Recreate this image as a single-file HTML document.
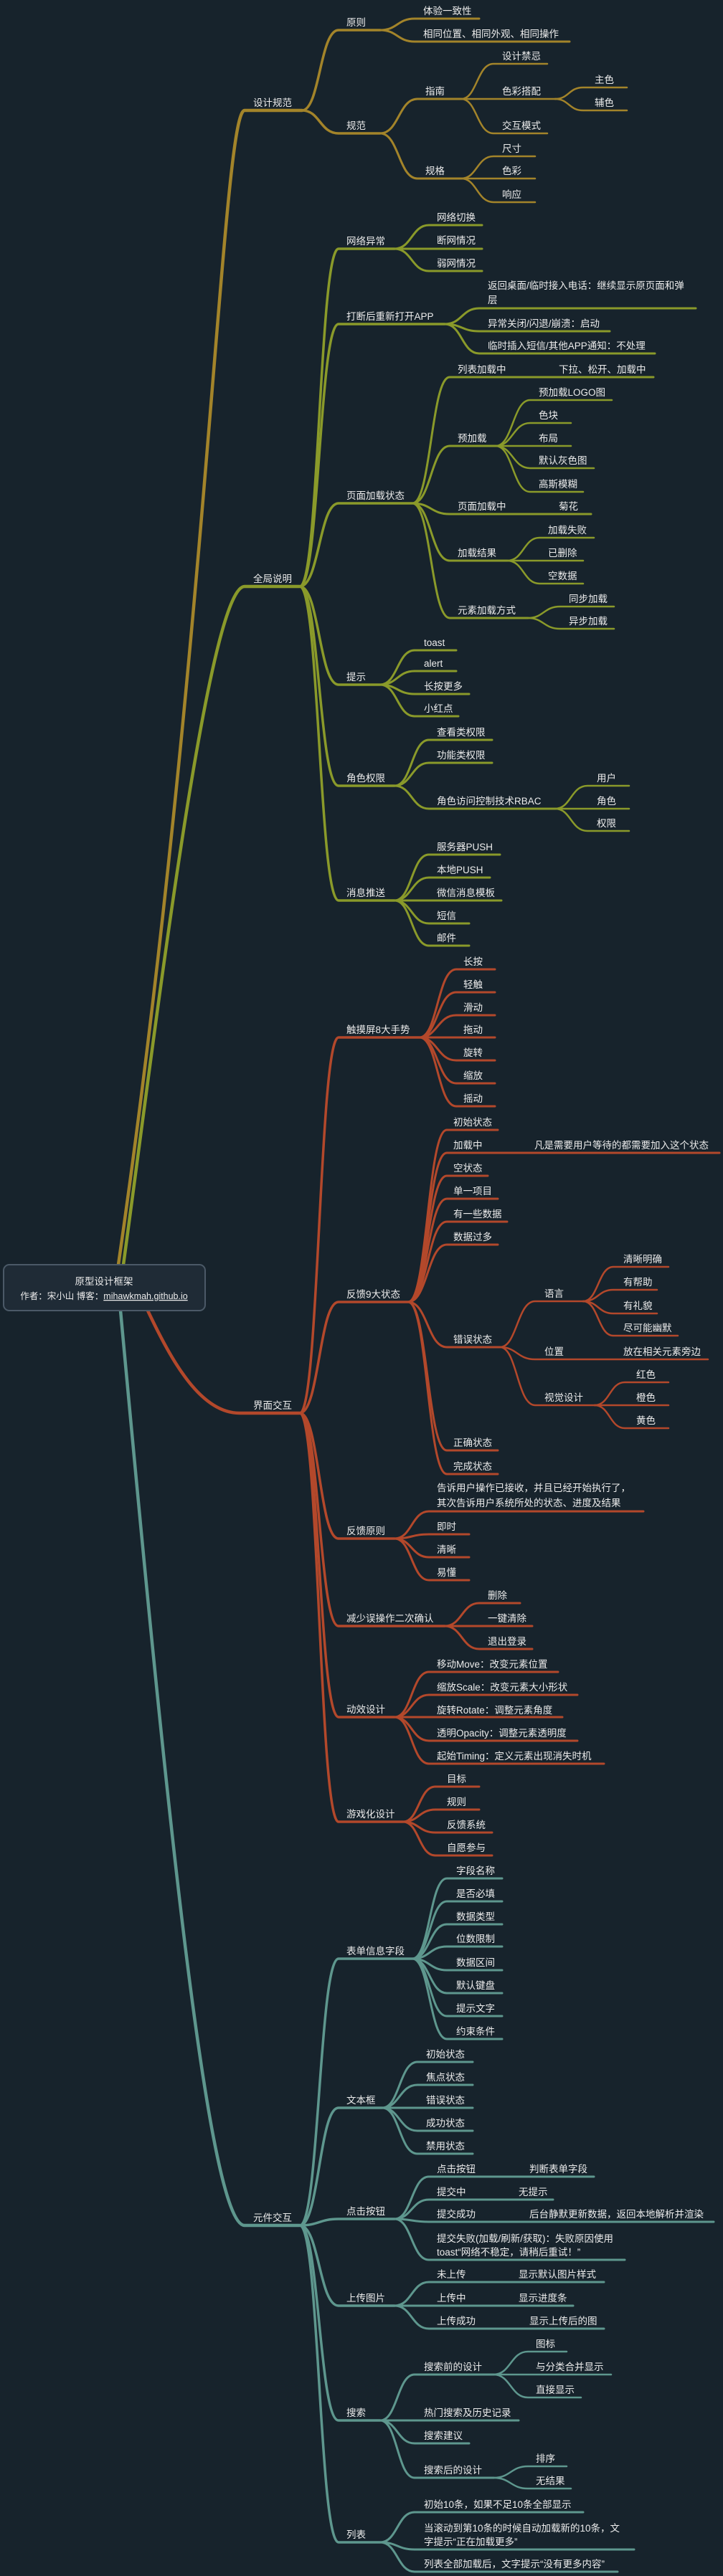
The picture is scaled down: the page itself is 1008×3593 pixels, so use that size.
<!DOCTYPE html>
<html><head><meta charset="utf-8">
<style>
html,body{margin:0;padding:0;background:#17232c;}
svg{display:block}
text{font-family:"Liberation Sans","Noto Sans CJK SC",sans-serif;font-size:13.5px;fill:#ececec;}
.g path{fill:none;stroke-linecap:round}
</style></head><body>
<svg width="1008" height="3593" viewBox="0 0 1008 3593" xmlns="http://www.w3.org/2000/svg">
<rect width="1008" height="3593" fill="#17232c"/>

<!-- GOLD -->
<g class="g" stroke="#a3842a">
<path d="M165,1764 C290,900 310,154 341,154 H421" stroke-width="4.5"/>
<path d="M421,154 C446,154 446,42 472,42 H530" stroke-width="3.5"/>
<path d="M421,154 C446,154 446,186 472,186 H530" stroke-width="3.5"/>
<path d="M530,42 C554,42 554,26 578,26 H668" stroke-width="3"/>
<path d="M530,42 C554,42 554,58 578,58 H794" stroke-width="3"/>
<path d="M530,186 C556,186 556,138 582,138 H643" stroke-width="3"/>
<path d="M530,186 C556,186 556,249 582,249 H643" stroke-width="3"/>
<path d="M643,138 C665,138 665,89 688,89 H763" stroke-width="2.5"/>
<path d="M643,138 H774" stroke-width="2.5"/>
<path d="M643,138 C665,138 665,186 688,186 H763" stroke-width="2.5"/>
<path d="M774,138 C793,138 793,122 813,122 H874" stroke-width="2.5"/>
<path d="M774,138 C793,138 793,154 813,154 H874" stroke-width="2.5"/>
<path d="M643,249 C665,249 665,218 688,218 H746" stroke-width="2.5"/>
<path d="M643,249 H746" stroke-width="2.5"/>
<path d="M643,249 C665,249 665,282 688,282 H746" stroke-width="2.5"/>
</g>
<text x="353" y="148">设计规范</text>
<text x="483" y="36">原则</text>
<text x="483" y="180">规范</text>
<text x="590" y="20">体验一致性</text>
<text x="590" y="52">相同位置、相同外观、相同操作</text>
<text x="593" y="132">指南</text>
<text x="593" y="243">规格</text>
<text x="700" y="83">设计禁忌</text>
<text x="700" y="132">色彩搭配</text>
<text x="700" y="180">交互模式</text>
<text x="829" y="116">主色</text>
<text x="829" y="148">辅色</text>
<text x="700" y="212">尺寸</text>
<text x="700" y="243">色彩</text>
<text x="700" y="276">响应</text>

<!-- GREEN -->
<g class="g" stroke="#8a9a2a">
<path d="M172,1764 C215,1450 290,818 341,818 H418" stroke-width="4.5"/>
<path d="M418,818 C445,818 445,347 472,347 H550" stroke-width="3.5"/>
<path d="M418,818 C445,818 445,452 472,452 H620" stroke-width="3.5"/>
<path d="M418,818 C445,818 445,702 472,702 H575" stroke-width="3.5"/>
<path d="M418,818 C445,818 445,955 472,955 H530" stroke-width="3.5"/>
<path d="M418,818 C445,818 445,1096 472,1096 H550" stroke-width="3.5"/>
<path d="M418,818 C445,818 445,1256 472,1256 H550" stroke-width="3.5"/>
<path d="M550,347 C574,347 574,314 598,314 H672" stroke-width="3"/>
<path d="M550,347 H672" stroke-width="3"/>
<path d="M550,347 C574,347 574,378 598,378 H672" stroke-width="3"/>
<path d="M620,452 C644,452 644,430 668,430 H970" stroke-width="3"/>
<path d="M620,452 C644,452 644,462 668,462 H850" stroke-width="3"/>
<path d="M620,452 C644,452 644,493 668,493 H913" stroke-width="3"/>
<path d="M575,702 C601,702 601,526 627,526 H911" stroke-width="3"/>
<path d="M575,702 C601,702 601,622 627,622 H691" stroke-width="3"/>
<path d="M575,702 C601,702 601,717 627,717 H824" stroke-width="3"/>
<path d="M575,702 C601,702 601,782 627,782 H707" stroke-width="3"/>
<path d="M575,702 C601,702 601,862 627,862 H736" stroke-width="3"/>
<path d="M691,622 C715,622 715,558 739,558 H853" stroke-width="2.5"/>
<path d="M691,622 C715,622 715,590 739,590 H796" stroke-width="2.5"/>
<path d="M691,622 H796" stroke-width="2.5"/>
<path d="M691,622 C715,622 715,653 739,653 H828" stroke-width="2.5"/>
<path d="M691,622 C715,622 715,686 739,686 H813" stroke-width="2.5"/>
<path d="M707,782 C730,782 730,750 752,750 H828" stroke-width="2.5"/>
<path d="M707,782 H813" stroke-width="2.5"/>
<path d="M707,782 C730,782 730,814 752,814 H813" stroke-width="2.5"/>
<path d="M736,862 C758,862 758,846 781,846 H856" stroke-width="2.5"/>
<path d="M736,862 C758,862 758,877 781,877 H856" stroke-width="2.5"/>
<path d="M530,955 C554,955 554,907 578,907 H636" stroke-width="3"/>
<path d="M530,955 C554,955 554,936 578,936 H636" stroke-width="3"/>
<path d="M530,955 C554,955 554,968 578,968 H654" stroke-width="3"/>
<path d="M530,955 C554,955 554,999 578,999 H639" stroke-width="3"/>
<path d="M550,1096 C574,1096 574,1032 598,1032 H686" stroke-width="3"/>
<path d="M550,1096 C574,1096 574,1064 598,1064 H686" stroke-width="3"/>
<path d="M550,1096 C574,1096 574,1128 598,1128 H774" stroke-width="3"/>
<path d="M774,1128 C796,1128 796,1096 819,1096 H877" stroke-width="2.5"/>
<path d="M774,1128 H877" stroke-width="2.5"/>
<path d="M774,1128 C796,1128 796,1159 819,1159 H877" stroke-width="2.5"/>
<path d="M550,1256 C574,1256 574,1192 598,1192 H697" stroke-width="3"/>
<path d="M550,1256 C574,1256 574,1224 598,1224 H683" stroke-width="3"/>
<path d="M550,1256 H699" stroke-width="3"/>
<path d="M550,1256 C574,1256 574,1288 598,1288 H654" stroke-width="3"/>
<path d="M550,1256 C574,1256 574,1319 598,1319 H654" stroke-width="3"/>
</g>
<text x="353" y="812">全局说明</text>
<text x="483" y="341">网络异常</text>
<text x="483" y="446">打断后重新打开APP</text>
<text x="483" y="696">页面加载状态</text>
<text x="483" y="949">提示</text>
<text x="483" y="1090">角色权限</text>
<text x="483" y="1250">消息推送</text>
<text x="609" y="308">网络切换</text>
<text x="609" y="340">断网情况</text>
<text x="609" y="372">弱网情况</text>
<text x="680" y="403">返回桌面/临时接入电话：继续显示原页面和弹</text>
<text x="680" y="423">层</text>
<text x="680" y="456">异常关闭/闪退/崩溃：启动</text>
<text x="680" y="487">临时插入短信/其他APP通知：不处理</text>
<text x="638" y="520">列表加载中</text>
<text x="779" y="520">下拉、松开、加载中</text>
<text x="638" y="616">预加载</text>
<text x="638" y="711">页面加载中</text>
<text x="779" y="711">菊花</text>
<text x="638" y="776">加载结果</text>
<text x="638" y="856">元素加载方式</text>
<text x="751" y="552">预加载LOGO图</text>
<text x="751" y="584">色块</text>
<text x="751" y="616">布局</text>
<text x="751" y="647">默认灰色图</text>
<text x="751" y="680">高斯模糊</text>
<text x="764" y="744">加载失败</text>
<text x="764" y="776">已删除</text>
<text x="764" y="808">空数据</text>
<text x="793" y="840">同步加载</text>
<text x="793" y="871">异步加载</text>
<text x="591" y="901">toast</text>
<text x="591" y="930">alert</text>
<text x="591" y="962">长按更多</text>
<text x="591" y="993">小红点</text>
<text x="609" y="1026">查看类权限</text>
<text x="609" y="1058">功能类权限</text>
<text x="609" y="1122">角色访问控制技术RBAC</text>
<text x="832" y="1090">用户</text>
<text x="832" y="1122">角色</text>
<text x="832" y="1153">权限</text>
<text x="609" y="1186">服务器PUSH</text>
<text x="609" y="1218">本地PUSH</text>
<text x="609" y="1250">微信消息模板</text>
<text x="609" y="1282">短信</text>
<text x="609" y="1313">邮件</text>

<!-- ORANGE -->
<g class="g" stroke="#b3482b">
<path d="M206,1828 C240,1900 280,1971 334,1971 H418" stroke-width="4.5"/>
<path d="M418,1971 C445,1971 445,1447 472,1447 H585" stroke-width="3.5"/>
<path d="M418,1971 C445,1971 445,1816 472,1816 H569" stroke-width="3.5"/>
<path d="M418,1971 C445,1971 445,2146 472,2146 H550" stroke-width="3.5"/>
<path d="M418,1971 C445,1971 445,2268 472,2268 H620" stroke-width="3.5"/>
<path d="M418,1971 C445,1971 445,2395 472,2395 H550" stroke-width="3.5"/>
<path d="M418,1971 C445,1971 445,2541 472,2541 H562" stroke-width="3.5"/>
<path d="M585,1447 C610,1447 610,1352 636,1352 H690" stroke-width="3"/>
<path d="M585,1447 C610,1447 610,1384 636,1384 H690" stroke-width="3"/>
<path d="M585,1447 C610,1447 610,1416 636,1416 H690" stroke-width="3"/>
<path d="M585,1447 H690" stroke-width="3"/>
<path d="M585,1447 C610,1447 610,1479 636,1479 H690" stroke-width="3"/>
<path d="M585,1447 C610,1447 610,1511 636,1511 H690" stroke-width="3"/>
<path d="M585,1447 C610,1447 610,1543 636,1543 H690" stroke-width="3"/>
<path d="M569,1816 C596,1816 596,1576 623,1576 H694" stroke-width="3"/>
<path d="M569,1816 C596,1816 596,1608 623,1608 H1003" stroke-width="3"/>
<path d="M569,1816 C596,1816 596,1640 623,1640 H680" stroke-width="3"/>
<path d="M569,1816 C596,1816 596,1672 623,1672 H694" stroke-width="3"/>
<path d="M569,1816 C596,1816 596,1704 623,1704 H707" stroke-width="3"/>
<path d="M569,1816 C596,1816 596,1736 623,1736 H694" stroke-width="3"/>
<path d="M569,1816 C596,1816 596,1879 623,1879 H697" stroke-width="3"/>
<path d="M569,1816 C596,1816 596,2023 623,2023 H694" stroke-width="3"/>
<path d="M569,1816 C596,1816 596,2056 623,2056 H694" stroke-width="3"/>
<path d="M697,1879 C721,1879 721,1815 746,1815 H813" stroke-width="2.5"/>
<path d="M697,1879 C721,1879 721,1896 746,1896 H987" stroke-width="2.5"/>
<path d="M697,1879 C721,1879 721,1960 746,1960 H829" stroke-width="2.5"/>
<path d="M813,1815 C834,1815 834,1767 855,1767 H932" stroke-width="2.5"/>
<path d="M813,1815 C834,1815 834,1799 855,1799 H916" stroke-width="2.5"/>
<path d="M813,1815 C834,1815 834,1832 855,1832 H916" stroke-width="2.5"/>
<path d="M813,1815 C834,1815 834,1863 855,1863 H945" stroke-width="2.5"/>
<path d="M829,1960 C850,1960 850,1928 871,1928 H932" stroke-width="2.5"/>
<path d="M829,1960 H932" stroke-width="2.5"/>
<path d="M829,1960 C850,1960 850,1992 871,1992 H932" stroke-width="2.5"/>
<path d="M550,2146 C574,2146 574,2108 598,2108 H897" stroke-width="3"/>
<path d="M550,2146 C574,2146 574,2140 598,2140 H654" stroke-width="3"/>
<path d="M550,2146 C574,2146 574,2172 598,2172 H654" stroke-width="3"/>
<path d="M550,2146 C574,2146 574,2204 598,2204 H654" stroke-width="3"/>
<path d="M620,2268 C644,2268 644,2236 668,2236 H725" stroke-width="3"/>
<path d="M620,2268 H742" stroke-width="3"/>
<path d="M620,2268 C644,2268 644,2300 668,2300 H742" stroke-width="3"/>
<path d="M550,2395 C574,2395 574,2332 598,2332 H778" stroke-width="3"/>
<path d="M550,2395 C574,2395 574,2364 598,2364 H805" stroke-width="3"/>
<path d="M550,2395 H784" stroke-width="3"/>
<path d="M550,2395 C574,2395 574,2428 598,2428 H805" stroke-width="3"/>
<path d="M550,2395 C574,2395 574,2460 598,2460 H842" stroke-width="3"/>
<path d="M562,2541 C584,2541 584,2492 607,2492 H668" stroke-width="3"/>
<path d="M562,2541 C584,2541 584,2524 607,2524 H668" stroke-width="3"/>
<path d="M562,2541 C584,2541 584,2556 607,2556 H686" stroke-width="3"/>
<path d="M562,2541 C584,2541 584,2588 607,2588 H686" stroke-width="3"/>
</g>
<text x="353" y="1965">界面交互</text>
<text x="483" y="1441">触摸屏8大手势</text>
<text x="483" y="1810">反馈9大状态</text>
<text x="483" y="2140">反馈原则</text>
<text x="483" y="2262">减少误操作二次确认</text>
<text x="483" y="2389">动效设计</text>
<text x="483" y="2535">游戏化设计</text>
<text x="646" y="1346">长按</text>
<text x="646" y="1378">轻触</text>
<text x="646" y="1410">滑动</text>
<text x="646" y="1441">拖动</text>
<text x="646" y="1473">旋转</text>
<text x="646" y="1505">缩放</text>
<text x="646" y="1537">摇动</text>
<text x="632" y="1570">初始状态</text>
<text x="632" y="1602">加载中</text>
<text x="745" y="1602">凡是需要用户等待的都需要加入这个状态</text>
<text x="632" y="1634">空状态</text>
<text x="632" y="1666">单一项目</text>
<text x="632" y="1698">有一些数据</text>
<text x="632" y="1730">数据过多</text>
<text x="632" y="1873">错误状态</text>
<text x="632" y="2017">正确状态</text>
<text x="632" y="2050">完成状态</text>
<text x="759" y="1809">语言</text>
<text x="759" y="1890">位置</text>
<text x="869" y="1890">放在相关元素旁边</text>
<text x="759" y="1954">视觉设计</text>
<text x="869" y="1761">清晰明确</text>
<text x="869" y="1793">有帮助</text>
<text x="869" y="1826">有礼貌</text>
<text x="869" y="1857">尽可能幽默</text>
<text x="887" y="1922">红色</text>
<text x="887" y="1954">橙色</text>
<text x="887" y="1986">黄色</text>
<text x="609" y="2080">告诉用户操作已接收，并且已经开始执行了，</text>
<text x="609" y="2101">其次告诉用户系统所处的状态、进度及结果</text>
<text x="609" y="2134">即时</text>
<text x="609" y="2166">清晰</text>
<text x="609" y="2198">易懂</text>
<text x="680" y="2230">删除</text>
<text x="680" y="2262">一键清除</text>
<text x="680" y="2294">退出登录</text>
<text x="609" y="2326">移动Move：改变元素位置</text>
<text x="609" y="2358">缩放Scale：改变元素大小形状</text>
<text x="609" y="2390">旋转Rotate：调整元素角度</text>
<text x="609" y="2422">透明Opacity：调整元素透明度</text>
<text x="609" y="2454">起始Timing：定义元素出现消失时机</text>
<text x="623" y="2486">目标</text>
<text x="623" y="2518">规则</text>
<text x="623" y="2550">反馈系统</text>
<text x="623" y="2582">自愿参与</text>

<!-- TEAL -->
<g class="g" stroke="#5e978e">
<path d="M168,1828 C230,2500 290,3104 341,3104 H418" stroke-width="4.5"/>
<path d="M418,3104 C445,3104 445,2732 472,2732 H575" stroke-width="3.5"/>
<path d="M418,3104 C445,3104 445,2940 472,2940 H533" stroke-width="3.5"/>
<path d="M418,3104 C445,3104 445,3095 472,3095 H550" stroke-width="3.5"/>
<path d="M418,3104 C445,3104 445,3216 472,3216 H550" stroke-width="3.5"/>
<path d="M418,3104 C445,3104 445,3376 472,3376 H530" stroke-width="3.5"/>
<path d="M418,3104 C445,3104 445,3546 472,3546 H530" stroke-width="3.5"/>
<path d="M575,2732 C599,2732 599,2620 623,2620 H700" stroke-width="3"/>
<path d="M575,2732 C599,2732 599,2652 623,2652 H700" stroke-width="3"/>
<path d="M575,2732 C599,2732 599,2684 623,2684 H700" stroke-width="3"/>
<path d="M575,2732 C599,2732 599,2715 623,2715 H700" stroke-width="3"/>
<path d="M575,2732 C599,2732 599,2748 623,2748 H700" stroke-width="3"/>
<path d="M575,2732 C599,2732 599,2780 623,2780 H700" stroke-width="3"/>
<path d="M575,2732 C599,2732 599,2812 623,2812 H700" stroke-width="3"/>
<path d="M575,2732 C599,2732 599,2844 623,2844 H700" stroke-width="3"/>
<path d="M533,2940 C557,2940 557,2876 582,2876 H659" stroke-width="3"/>
<path d="M533,2940 C557,2940 557,2908 582,2908 H659" stroke-width="3"/>
<path d="M533,2940 H659" stroke-width="3"/>
<path d="M533,2940 C557,2940 557,2972 582,2972 H659" stroke-width="3"/>
<path d="M533,2940 C557,2940 557,3004 582,3004 H659" stroke-width="3"/>
<path d="M550,3095 C574,3095 574,3036 598,3036 H828" stroke-width="3"/>
<path d="M550,3095 C574,3095 574,3068 598,3068 H771" stroke-width="3"/>
<path d="M550,3095 C574,3095 574,3099 598,3099 H995" stroke-width="3"/>
<path d="M550,3095 C574,3095 574,3152 598,3152 H871" stroke-width="3"/>
<path d="M550,3216 C574,3216 574,3183 598,3183 H842" stroke-width="3"/>
<path d="M550,3216 H799" stroke-width="3"/>
<path d="M550,3216 C574,3216 574,3248 598,3248 H842" stroke-width="3"/>
<path d="M530,3376 C554,3376 554,3312 578,3312 H688" stroke-width="3"/>
<path d="M530,3376 H723" stroke-width="3"/>
<path d="M530,3376 C554,3376 554,3408 578,3408 H654" stroke-width="3"/>
<path d="M530,3376 C554,3376 554,3456 578,3456 H688" stroke-width="3"/>
<path d="M688,3312 C712,3312 712,3280 736,3280 H790" stroke-width="2.5"/>
<path d="M688,3312 H852" stroke-width="2.5"/>
<path d="M688,3312 C712,3312 712,3344 736,3344 H810" stroke-width="2.5"/>
<path d="M688,3456 C712,3456 712,3440 736,3440 H790" stroke-width="2.5"/>
<path d="M688,3456 C712,3456 712,3471 736,3471 H796" stroke-width="2.5"/>
<path d="M530,3546 C554,3546 554,3504 578,3504 H813" stroke-width="3"/>
<path d="M530,3546 C554,3546 554,3556 578,3556 H884" stroke-width="3"/>
<path d="M530,3546 C554,3546 554,3587 578,3587 H861" stroke-width="3"/>
</g>
<text x="353" y="3098">元件交互</text>
<text x="483" y="2726">表单信息字段</text>
<text x="483" y="2934">文本框</text>
<text x="483" y="3089">点击按钮</text>
<text x="483" y="3210">上传图片</text>
<text x="483" y="3370">搜索</text>
<text x="483" y="3540">列表</text>
<text x="636" y="2614">字段名称</text>
<text x="636" y="2646">是否必填</text>
<text x="636" y="2678">数据类型</text>
<text x="636" y="2709">位数限制</text>
<text x="636" y="2742">数据区间</text>
<text x="636" y="2774">默认键盘</text>
<text x="636" y="2806">提示文字</text>
<text x="636" y="2838">约束条件</text>
<text x="594" y="2870">初始状态</text>
<text x="594" y="2902">焦点状态</text>
<text x="594" y="2934">错误状态</text>
<text x="594" y="2966">成功状态</text>
<text x="594" y="2998">禁用状态</text>
<text x="609" y="3030">点击按钮</text>
<text x="738" y="3030">判断表单字段</text>
<text x="609" y="3062">提交中</text>
<text x="723" y="3062">无提示</text>
<text x="609" y="3093">提交成功</text>
<text x="738" y="3093">后台静默更新数据，返回本地解析并渲染</text>
<text x="609" y="3127">提交失败(加载/刷新/获取)：失败原因使用</text>
<text x="609" y="3146">toast“网络不稳定，请稍后重试！”</text>
<text x="609" y="3177">未上传</text>
<text x="723" y="3177">显示默认图片样式</text>
<text x="609" y="3210">上传中</text>
<text x="723" y="3210">显示进度条</text>
<text x="609" y="3242">上传成功</text>
<text x="738" y="3242">显示上传后的图</text>
<text x="591" y="3306">搜索前的设计</text>
<text x="591" y="3370">热门搜索及历史记录</text>
<text x="591" y="3402">搜索建议</text>
<text x="591" y="3450">搜索后的设计</text>
<text x="747" y="3274">图标</text>
<text x="747" y="3306">与分类合并显示</text>
<text x="747" y="3338">直接显示</text>
<text x="747" y="3434">排序</text>
<text x="747" y="3465">无结果</text>
<text x="591" y="3498">初始10条，如果不足10条全部显示</text>
<text x="591" y="3531">当滚动到第10条的时候自动加载新的10条，文</text>
<text x="591" y="3550">字提示“正在加载更多”</text>
<text x="591" y="3581">列表全部加载后，文字提示“没有更多内容”</text>

<!-- ROOT -->
<rect x="5" y="1764" width="281" height="64" rx="8" fill="#1f2b36" stroke="#4b5967" stroke-width="2"/>
<text x="145" y="1792" text-anchor="middle">原型设计框架</text>
<text x="145" y="1812" text-anchor="middle" style="font-size:12.5px">作者：宋小山 博客：<tspan text-decoration="underline">mihawkmah.github.io</tspan></text>
</svg>
</body></html>
